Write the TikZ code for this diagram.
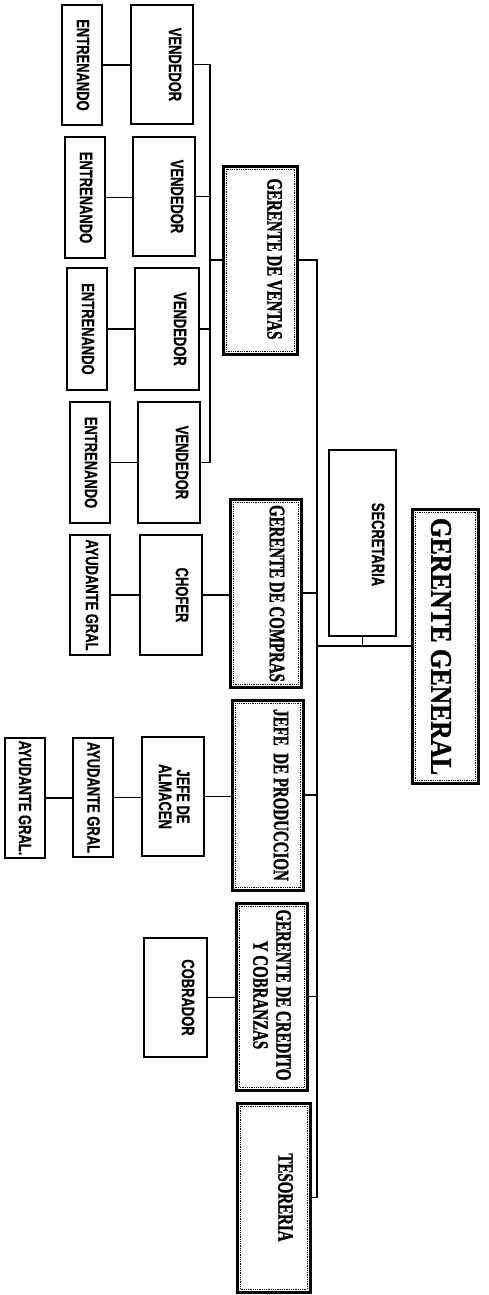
\documentclass[tikz,border=0pt]{standalone}
\usepackage{fontspec}
\newfontfamily\nsans[FakeStretch=0.72,FakeBold=0.6]{Liberation Sans Bold}
\newfontfamily\nserif[FakeStretch=0.68,FakeBold=1.2]{Liberation Serif Bold}
\newfontfamily\ggserif[FakeStretch=0.85,FakeBold=1.2]{Liberation Serif Bold}
\begin{document}
\begin{tikzpicture}[x=1pt,y=-1pt,
  smallbox/.style={draw, line width=1.8pt, inner sep=0pt},
  secbox/.style={draw, line width=2.2pt, inner sep=0pt},
  mgrbox/.style={draw, line width=3pt, inner sep=0pt},
  inbox/.style={line width=0.8pt, dash pattern=on 0.9pt off 0.9pt},
  stxt/.style={rotate=-90, inner sep=0pt, font=\nsans\fontsize{18}{18}\selectfont, align=center},
  mtxt/.style={rotate=-90, inner sep=0pt, font=\nserif\fontsize{22}{23}\selectfont, align=center},
  gtxt/.style={rotate=-90, inner sep=0pt, font=\ggserif\fontsize{30}{30}\selectfont},
  conn/.style={line width=1.1pt}]
\useasboundingbox (0,0) rectangle (488,1295);
\fill[white] (0,0) rectangle (488,1295);

% inner dotted frame macro
\newcommand\dotframe[1]{\draw[inbox] ([shift={(4.5,4.5)}]#1.north west) rectangle ([shift={(-4.5,-4.5)}]#1.south east);}

% ---- Vendedores / entrenando
\node[smallbox, minimum width=40pt, minimum height=120pt] (e1) at (82,65) {};
\node[smallbox, minimum width=62pt, minimum height=119pt] (v1) at (162,64.5) {};
\node[smallbox, minimum width=40pt, minimum height=121pt] (e2) at (85,197.5) {};
\node[smallbox, minimum width=62pt, minimum height=119pt] (v2) at (164,196.5) {};
\node[smallbox, minimum width=40pt, minimum height=122pt] (e3) at (87,329) {};
\node[smallbox, minimum width=64pt, minimum height=122pt] (v3) at (167,329) {};
\node[smallbox, minimum width=40pt, minimum height=121pt] (e4) at (90,462.5) {};
\node[smallbox, minimum width=62pt, minimum height=121pt] (v4) at (169,462.5) {};
\node[smallbox, minimum width=40pt, minimum height=120pt] (ag1) at (90,595) {};
\node[smallbox, minimum width=62pt, minimum height=120pt] (ch) at (171,595) {};
\node[smallbox, minimum width=62pt, minimum height=119pt] (ja) at (173,796.5) {};
\node[smallbox, minimum width=40pt, minimum height=119pt] (ag2) at (93,797.5) {};
\node[smallbox, minimum width=40pt, minimum height=120pt] (ag3) at (25,798) {};
\node[smallbox, minimum width=63pt, minimum height=119pt] (cob) at (175.5,997.5) {};

\node[stxt] at (83,65) {ENTRENANDO};
\node[stxt] at (175,64.5) {VENDEDOR};
\node[stxt] at (86,197.5) {ENTRENANDO};
\node[stxt] at (177,196.5) {VENDEDOR};
\node[stxt] at (88,329) {ENTRENANDO};
\node[stxt] at (180,329) {VENDEDOR};
\node[stxt] at (91,462.5) {ENTRENANDO};
\node[stxt] at (182,462.5) {VENDEDOR};
\node[stxt] at (92,595) {AYUDANTE GRAL};
\node[stxt] at (182,595) {CHOFER};
\node[stxt] at (174,796.5) {JEFE DE\\ALMACEN};
\node[stxt] at (93.5,797.5) {AYUDANTE GRAL};
\node[stxt] at (25,798) {AYUDANTE GRAL.};
\node[stxt] at (188,997.5) {COBRADOR};

% ---- managers
\node[mgrbox, minimum width=74pt, minimum height=188pt] (gdv) at (260,260) {};
\node[mgrbox, minimum width=71pt, minimum height=188pt] (gdc) at (265.5,593) {};
\node[mgrbox, minimum width=71pt, minimum height=190pt] (jdp) at (267.5,795) {};
\node[mgrbox, minimum width=71pt, minimum height=187pt] (gcc) at (271.5,996.5) {};
\node[mgrbox, minimum width=73pt, minimum height=189pt] (tes) at (273.5,1197.5) {};
\node[mgrbox, minimum width=66pt, minimum height=274pt] (gg) at (445,646) {};
\node[secbox, minimum width=67pt, minimum height=186pt] (sec) at (362.5,543) {};
\dotframe{gdv}\dotframe{gdc}\dotframe{jdp}\dotframe{gcc}\dotframe{tes}\dotframe{gg}

\node[mtxt] at (274.5,259) {GERENTE DE VENTAS};
\node[mtxt] at (277,593.5) {GERENTE DE COMPRAS};
\node[mtxt] at (281,795) {JEFE~~DE PRODUCCION};
\node[mtxt] at (272,995) {GERENTE DE CREDITO\\Y COBRANZAS};
\node[mtxt] at (285.5,1197.5) {TESORERIA};
\node[gtxt] at (441,646.5) {GERENTE GENERAL};
\node[stxt] at (378,544.5) {SECRETARIA};

% ---- connectors
\coordinate (vb) at (210,0);
\coordinate (mb) at (317,0);
\draw[conn] (e1.east) -- (e1.east -| v1.west);
\draw[conn] (e2.east) -- (e2.east -| v2.west);
\draw[conn] (e3.east) -- (e3.east -| v3.west);
\draw[conn] (e4.east) -- (e4.east -| v4.west);
\draw[conn] (v1.east) -| (vb |- v4.east) -- (v4.east);
\draw[conn] (v2.east) -- (v2.east -| vb);
\draw[conn] (v3.east) -- (v3.east -| vb);
\draw[conn] (gdv.west) -- (gdv.west -| vb);
\draw[conn] (gdv.east) -| (mb |- tes.east) -- (tes.east);
\draw[conn] (gdc.east) -- (gdc.east -| mb);
\draw[conn] (jdp.east) -- (jdp.east -| mb);
\draw[conn] (gcc.east) -- (gcc.east -| mb);
\draw[conn] (gg.west) -- (gg.west -| mb);
\draw[conn] (sec.south) -- (sec.south |- gg.west);
\draw[conn] (ag1.east) -- (ag1.east -| ch.west);
\draw[conn] (ch.east) -- (ch.east -| gdc.west);
\draw[conn] (ag3.east) -- (ag3.east -| ag2.west);
\draw[conn] (ag2.east) -- (ag2.east -| ja.west);
\draw[conn] (ja.east) -- (ja.east -| jdp.west);
\draw[conn] (cob.east) -- (cob.east -| gcc.west);
\end{tikzpicture}
\end{document}
